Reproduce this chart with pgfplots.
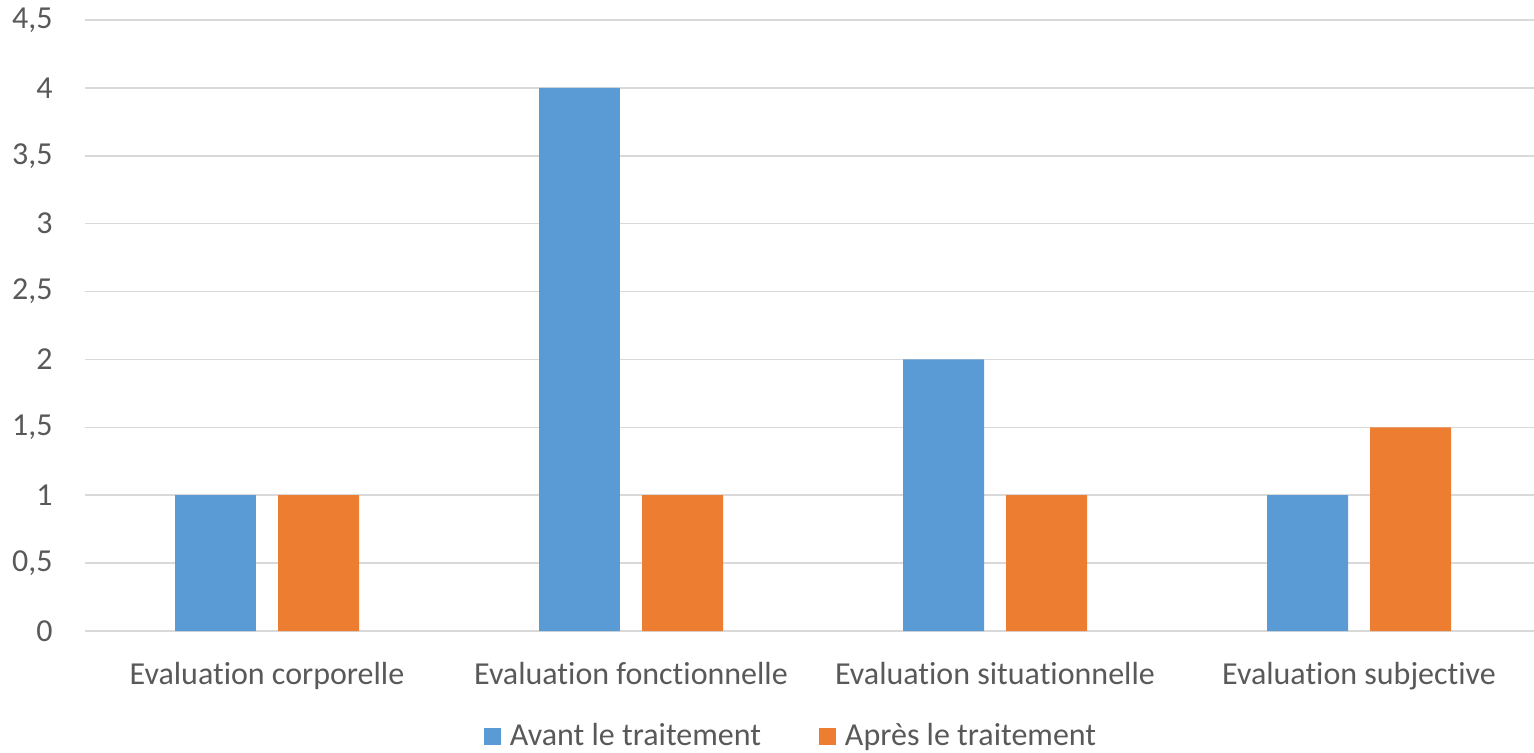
\documentclass[border=0pt]{standalone}
\usepackage{pgfplots}
\pgfplotsset{compat=1.18}
\usepackage{fontspec}
\setmainfont{Carlito}[Ligatures=NoCommon]
\definecolor{cblue}{HTML}{5B9BD5}
\definecolor{corange}{HTML}{ED7D31}
\definecolor{gridc}{HTML}{D9D9D9}
\definecolor{txt}{HTML}{595959}
\begin{document}
\begin{tikzpicture}
\begin{axis}[
  scale only axis, width=728pt, height=305.5pt,
  xmin=-0.5, xmax=3.5, ymin=0, ymax=4.5,
  xtick={0,1,2,3},
  xticklabels={Evaluation corporelle, Evaluation fonctionnelle, Evaluation situationnelle, Evaluation subjective},
  ytick={0,0.5,1,1.5,2,2.5,3,3.5,4,4.5},
  /pgf/number format/use comma,
  /pgf/number format/assume math mode=true,
  ymajorgrids, grid style={gridc, line width=0.8pt},
  axis line style={draw=none},
  major tick length=0pt, tick style={draw=none},
  font=\fontsize{16}{19}\selectfont,
  tick label style={text=txt, font=\fontsize{16}{19}\selectfont},
  yticklabel style={anchor=east, inner sep=0pt, xshift=-16pt},
  xticklabel style={anchor=base, inner sep=0pt, yshift=-26.5pt},
  legend columns=2,
  legend style={at={(axis description cs:0.5,0)}, anchor=center, yshift=-52.5pt, xshift=-10.5pt,
    draw=none, fill=none, text=txt, font=\fontsize{16}{19}\selectfont,
    /tikz/every odd column/.append style={column sep=2.5pt},
    /tikz/every even column/.append style={column sep=27pt}},
  legend image code/.code={\fill[#1] (0pt,-4.25pt) rectangle (8.5pt,4.25pt);},
]
\addplot[ybar, fill=cblue, draw=none, bar width=0.2225, bar shift=-0.1415]
  coordinates {(0,1) (1,4) (2,2) (3,1)};
\addplot[ybar, fill=corange, draw=none, bar width=0.2225, bar shift=0.1415]
  coordinates {(0,1) (1,1) (2,1) (3,1.5)};
\legend{Avant le traitement, Après le traitement}
\end{axis}
\pgfresetboundingbox
\path[use as bounding box] (current axis.south west) ++(-42.5pt,-60.5pt) rectangle ++(767pt,376pt);
\end{tikzpicture}
\end{document}
